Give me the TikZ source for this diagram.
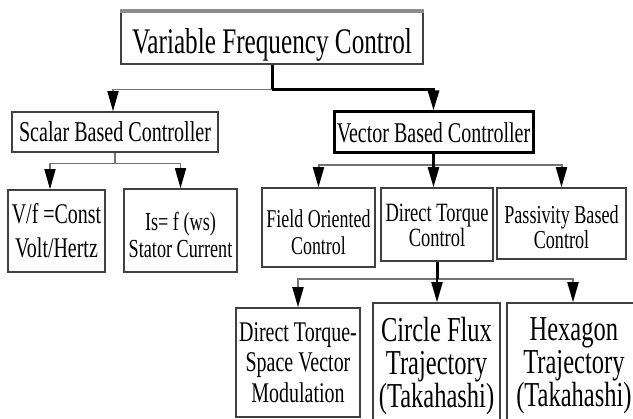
\documentclass[tikz,border=0pt]{standalone}
\usepackage{fontspec}
\setmainfont{Liberation Serif}
\usetikzlibrary{arrows.meta,calc}
\begin{document}
\begin{tikzpicture}[x=1pt,y=-1pt,
 boxst/.style={draw=black!75, line width=1.5pt, rectangle, inner sep=0pt},
 lbl/.style={align=center, inner sep=0pt, text=black, xscale=0.7, transform shape},
 stemln/.style={line width=3pt, black},
 busln/.style={line width=2pt, black!55},
 thinln/.style={line width=1.5pt, black!55},
 tipst/.style={-{Triangle[length=20pt 0 0,width=11pt 0 0,color=black]}},
]
\useasboundingbox (0,0) rectangle (633,419);
\clip (0,0) rectangle (633,419);
\fill[white] (0,0) rectangle (633,419);

% boxes
\node[boxst, minimum width=302pt, minimum height=53pt,
  label={[lbl,font=\fontsize{36}{40}\selectfont,yshift=-7.4pt]center:Variable Frequency Control}] (top) at (272,37.5) {};
\draw[line width=4pt, black!45] ([yshift=-1pt]top.north west) -- ([yshift=-1pt]top.north east);

\node[boxst, minimum width=206pt, minimum height=40pt,
  label={[lbl,font=\fontsize{28.7}{32}\selectfont]center:Scalar Based Controller}] (scalar) at (115,132) {};
\node[boxst, draw=black, line width=3pt, minimum width=199pt, minimum height=41pt,
  label={[lbl,font=\fontsize{28.6}{32}\selectfont]center:Vector Based Controller}] (vector) at (433.5,132.5) {};

\node[boxst, minimum width=97pt, minimum height=82pt,
  label={[lbl,font=\fontsize{28.5}{34}\selectfont]center:{V/f =Const\\Volt/Hertz}}] (vf) at (56.5,231) {};
\node[boxst, minimum width=113pt, minimum height=83pt,
  label={[lbl,font=\fontsize{26}{27}\selectfont,yshift=-4pt]center:{Is= f (ws)\\Stator Current}}] (is) at (180.5,230.5) {};

\node[boxst, minimum width=113pt, minimum height=79pt,
  label={[lbl,font=\fontsize{25.6}{27}\selectfont,yshift=-5.2pt]center:{Field Oriented\\Control}}] (foc) at (318.5,227.5) {};
\node[boxst, minimum width=112pt, minimum height=73pt,
  label={[lbl,font=\fontsize{26.4}{25}\selectfont,yshift=-1pt]center:{Direct Torque\\Control}}] (dtc) at (437,224.5) {};
\node[boxst, minimum width=129pt, minimum height=71pt,
  label={[lbl,font=\fontsize{25.9}{25}\selectfont,yshift=-4pt]center:{Passivity Based\\Control}}] (pbc) at (561.5,223.5) {};

\node[boxst, minimum width=124pt, minimum height=109pt,
  label={[lbl,font=\fontsize{28.5}{30.5}\selectfont]center:{Direct Torque-\\Space Vector\\Modulation}}] (svm) at (298,362.5) {};
\node[boxst, minimum width=127pt, minimum height=126pt,
  label={[lbl,font=\fontsize{35}{33}\selectfont]center:{Circle Flux\\Trajectory\\(Takahashi)}}] (cft) at (436.5,366) {};
\node[boxst, minimum width=138pt, minimum height=126pt,
  label={[lbl,font=\fontsize{35}{33}\selectfont,xshift=-3pt]center:{Hexagon\\Trajectory\\(Takahashi)}}] (hex) at (576,366) {};

% connectors: top level
\coordinate (j0) at ($(top.south)+(0,25)$);
\draw[stemln] (top.south) -- (j0);
\draw[thinln, tipst] (j0) -| ([xshift=-2pt]scalar.north);
\draw[stemln, tipst] (j0) -| (vector.north);

% scalar children
\coordinate (j1) at ($(scalar.south)+(0,11)$);
\draw[thinln] (scalar.south) -- (j1);
\draw[thinln, tipst] (j1) -| ([xshift=-6.5pt]vf.north);
\draw[thinln, tipst] (j1) -| (is.north);

% vector children
\coordinate (j2) at ($(vector.south)+(0,10.5)$);
\draw[busln, tipst] (j2) -| (foc.north);
\draw[busln, tipst] (j2) -| (pbc.north);
\draw[line width=2.5pt, black, tipst] (vector.south) -- (vector.south |- dtc.north);

% direct torque children
\coordinate (j3) at ($(dtc.south)+(0,17)$);
\draw[busln, tipst] (j3) -| (svm.north);
\draw[busln, tipst] (j3) -| ([xshift=-3pt]hex.north);
\draw[stemln] (dtc.south) -- (j3);
\draw[line width=2pt, black, tipst] (j3) -- (j3 |- cft.north);
\end{tikzpicture}
\end{document}
